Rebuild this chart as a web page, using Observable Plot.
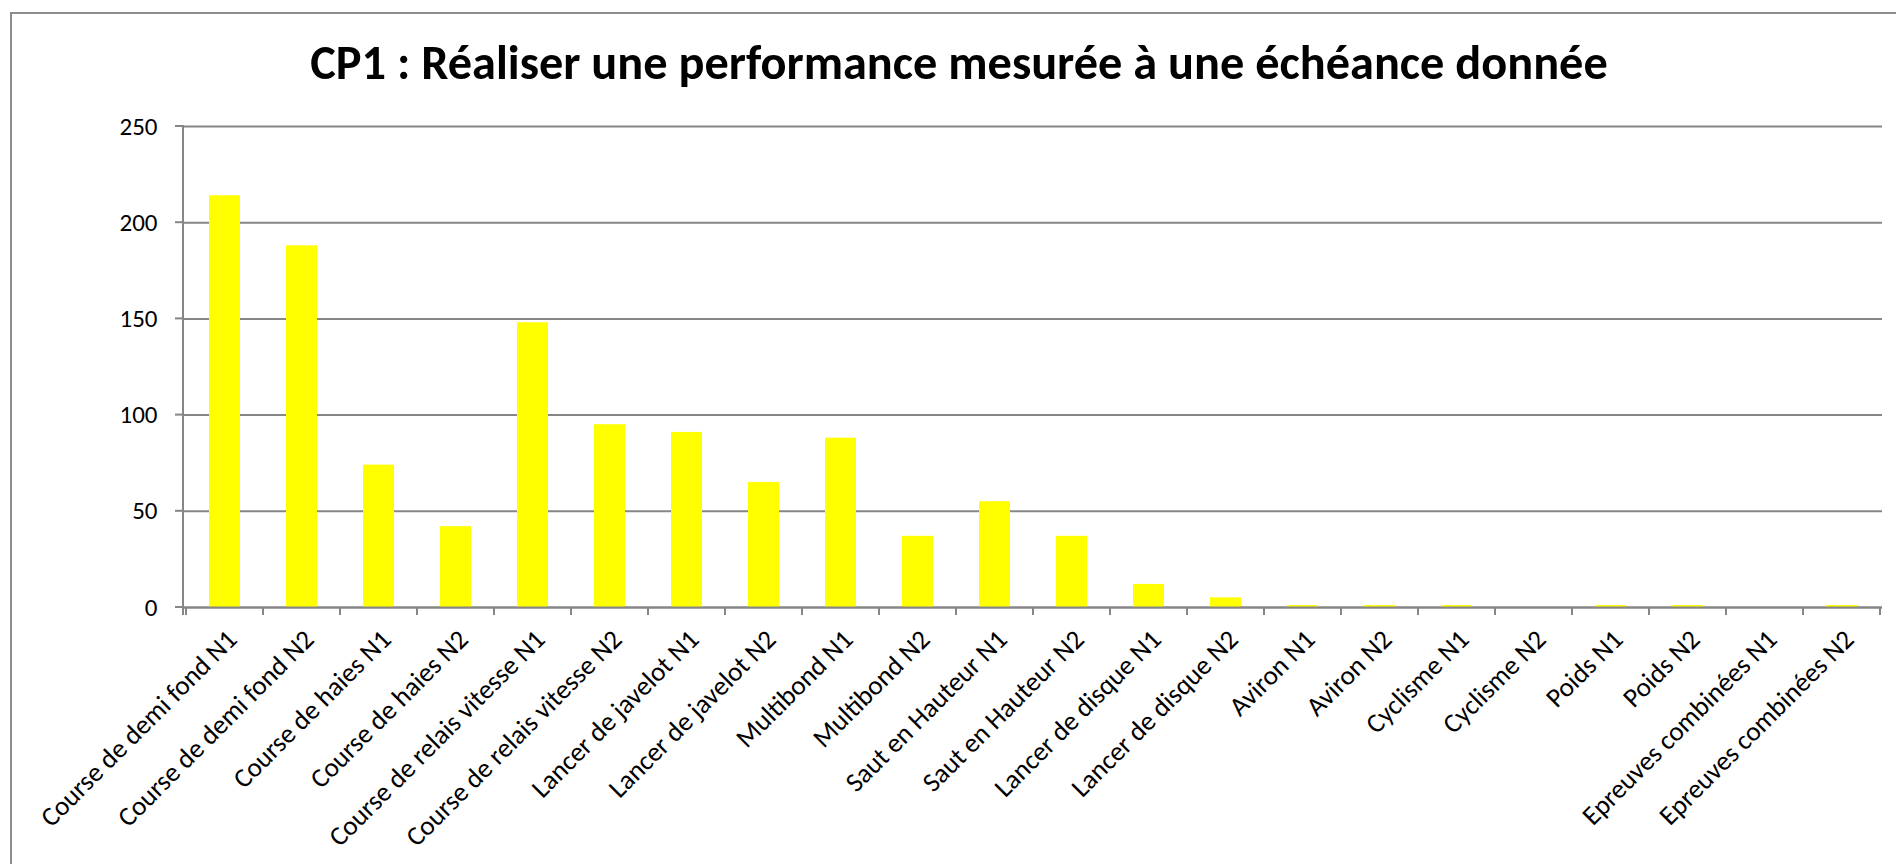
<!DOCTYPE html>
<html><head><meta charset="utf-8">
<script src="https://cdn.jsdelivr.net/npm/d3@7"></script>
<script src="https://cdn.jsdelivr.net/npm/@observablehq/plot@0.6"></script>
<style>
html,body{margin:0;padding:0;background:#fff;}
#wrap{position:relative;width:1896px;height:864px;overflow:hidden;font-family:Calibri,Carlito,Lato,sans-serif;}
#border{position:absolute;left:10px;top:12px;width:2000px;height:1000px;border-left:2px solid #8c8c8c;border-top:2px solid #8c8c8c;}
#title{position:absolute;left:0;width:1918px;top:42px;text-align:center;font-weight:bold;font-size:40px;line-height:1;color:#000;white-space:nowrap;}
#chart{position:absolute;left:0;top:100px;}
</style></head><body>
<div id="wrap"><div id="border"></div><div id="title"><span id="tspan"></span></div><div id="chart"></div></div>
<script>
const titleText = "CP1 : Réaliser une performance mesurée à une échéance donnée";
const categories = [
  "Course de demi fond N1","Course de demi fond N2","Course de haies N1","Course de haies N2",
  "Course de relais vitesse N1","Course de relais vitesse N2","Lancer de javelot N1","Lancer de javelot N2",
  "Multibond N1","Multibond N2","Saut en Hauteur N1","Saut en Hauteur N2",
  "Lancer de disque N1","Lancer de disque N2","Aviron N1","Aviron N2",
  "Cyclisme N1","Cyclisme N2","Poids N1","Poids N2","Epreuves combinées N1","Epreuves combinées N2"
];
const values = [214,188,74,42,148,95,91,65,88,37,55,37,12,5,1,1,1,0,1,1,0,1];
const yTicks = [0,50,100,150,200,250];

const FONT = "Calibri, Carlito, Lato, sans-serif";
const gray = "#868686";

// title sizing (fit to the reference width)
const title = document.getElementById("title");
const tspan = document.getElementById("tspan");
tspan.textContent = titleText;
title.style.fontSize = "40px";
const tw = tspan.getBoundingClientRect().width;
const tfs = 40 * 1298 / tw;
title.style.fontSize = tfs + "px";
title.style.top = (80 - 0.842 * tfs) + "px";

const data = categories.map((c, i) => ({category: c, value: values[i]}));

const frameLines = (index, scales) => {
  const x = scales.x, y = scales.y;
  const g = d3.create("svg:g").attr("stroke", gray).attr("stroke-width", 2).attr("fill", "none");
  const [x0] = x.range();
  const step = x.step(), bw = x.bandwidth();
  const y0 = y(0);
  g.append("line").attr("x1", x0).attr("x2", x0).attr("y1", y(250) - 1).attr("y2", y0 + 8);
  yTicks.forEach(t => g.append("line").attr("x1", x0 - 8).attr("x2", x0).attr("y1", y(t)).attr("y2", y(t)));
  const dom = x.domain();
  const bounds = dom.map(d => x(d) - (step - bw) / 2);
  bounds.push(x(dom[dom.length - 1]) + bw + (step - bw) / 2);
  bounds.forEach(b => g.append("line").attr("x1", b).attr("x2", b).attr("y1", y0).attr("y2", y0 + 8));
  return g.node();
};

const chart = Plot.plot({
  width: 1896, height: 764,
  marginTop: 26, marginBottom: 257, marginLeft: 183, marginRight: 14,
  style: {fontFamily: FONT, fontSize: "25px", color: "#000", background: "transparent", overflow: "visible"},
  x: {domain: categories, paddingInner: 0.6, paddingOuter: 0.3, align: 0.5, axis: null},
  y: {domain: [0, 250], ticks: yTicks},
  marks: [
    Plot.gridY(yTicks, {stroke: gray, strokeOpacity: 1, strokeWidth: 2}),
    Plot.axisY(yTicks, {tickSize: 0, tickPadding: 26, fontSize: 25, fill: "#000", label: null}),
    Plot.barY(data, {x: "category", y: "value", fill: "#FFFF00"}),
    Plot.ruleY([0], {stroke: gray, strokeWidth: 2}),
    frameLines,
    Plot.text(data, {x: "category", text: "category", frameAnchor: "bottom", rotate: -45, textAnchor: "end", lineAnchor: "top", dx: 0, dy: 20, fontSize: 27, fill: "#000"})
  ]
});
document.getElementById("chart").appendChild(chart);
</script>
</body></html>
